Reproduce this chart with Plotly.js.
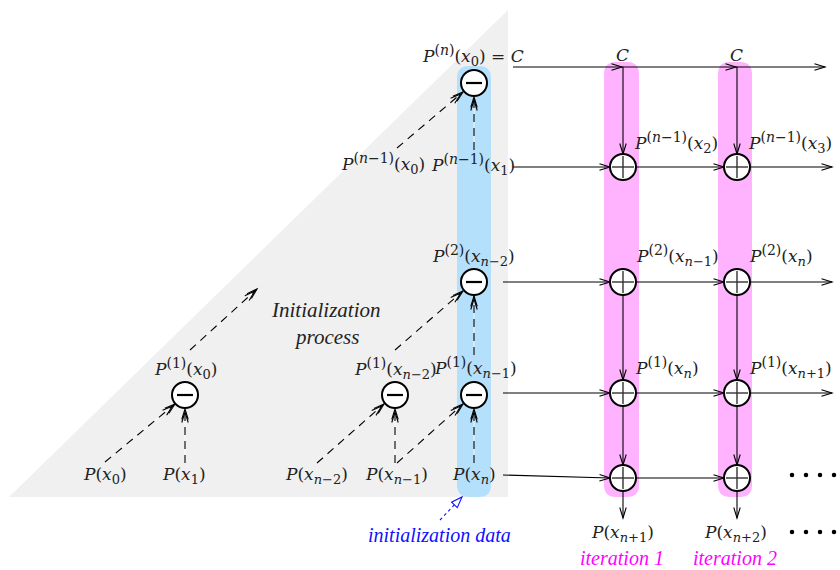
<!DOCTYPE html>
<html>
<head>
<meta charset="utf-8">
<script src="https://cdn.plot.ly/plotly-3.0.1.min.js"></script>
<style>html,body{margin:0;padding:0;background:#fff;}#chart{width:840px;height:570px;}</style>
</head>
<body>
<div id="chart"></div>
<script>
// ---------- diagram data (coordinates in diagram units) ----------
const iterColX = [623, 737];            // iteration columns
const iterRowY = [167, 282, 393, 478];  // rows of the iteration grid
const constRowY = 67;                   // the "C" line
const minusX = [474, 474, 474, 185, 395];
const minusY = [83, 282, 395, 395, 395];

const grayTriangleX = [9, 508, 508];
const grayTriangleY = [497, 10, 497];
const blueBandX = [457, 491];
const blueBandY = [66, 497];
const pinkBandX = [[604, 639], [718, 752]];
const pinkBandY = [62, 497];

// dashed arrows of the initialization process: [x0, y0, x1, y1]
const dashedArrows = [
  [105, 462, 175, 404],
  [185, 463, 185, 409],
  [190, 350, 257, 289],
  [317, 463, 384, 404],
  [395, 463, 395, 409],
  [397, 463, 463, 404],
  [395, 350, 463, 291],
  [474, 463, 474, 409],
  [474, 355, 474, 296],
  [397, 148, 463, 92],
  [474, 150, 474, 97]
];

const diagDotsX = [323, 332, 342, 352, 361, 370];
const diagDotsY = [228, 219, 210, 200, 190, 182];
const blueDotsY = [183, 196, 208, 221, 234];
const pinkDotsY = [192, 206, 220, 233, 247];
const tailDotsX = [792, 806, 820, 834];
const tailDotsY = [475, 532];

// label pieces: base symbol, superscript order, argument, argument subscript
const supOrder = ['n', '', '', 'n−1', 'n−1', 'n−1', 'n−1', '2', '2', '2', '1', '1', '1', '1', '1', '', '', '', '', '', '', ''];
const argSub = ['0', '', '', '0', '1', '2', '3', 'n−2', 'n−1', 'n', '0', 'n−2', 'n−1', 'n', 'n+1', '0', '1', 'n−2', 'n−1', 'n', 'n+1', 'n+2'];
const mathLabelX = [473, 622, 736, 383, 473, 676, 790, 473, 677, 781, 185, 395, 475, 667, 790, 105, 184, 316, 396, 474, 622, 735];
const mathLabelY = [55, 55, 55, 163, 164, 142, 142, 255, 255, 255, 368, 368, 367, 367, 367, 475, 475, 475, 475, 475, 533, 533];

const captions = ['Initialization', 'process', 'initialization data', 'iteration 1', 'iteration 2'];
const captionX = [326, 326, 439, 622, 735];
const captionY = [310, 337, 535, 558, 558];
const captionColor = ['#222', '#222', '#1010ff', '#ff00ff', '#ff00ff'];

function ital(s) { return s.replace(/n/g, '<i>n</i>'); }
function mathLabel(i) {
  if (i === 1 || i === 2) return '<i>C</i>';
  let t = '<i>P</i>';
  if (supOrder[i]) t += '<sup><span style="font-size:14px">(' + ital(supOrder[i]) + ')</span></sup>';
  t += '(<i>x</i><sub><span style="font-size:13px">' + ital(argSub[i]) + '</span></sub>)';
  if (i === 0) t += ' = <i>C</i>';
  return t;
}

// ---------- drawing helpers ----------
const R = 13;
const shapes = [];
function line(x0, y0, x1, y1, color, width, dash) {
  shapes.push({type: 'line', xref: 'x', yref: 'y', x0, y0, x1, y1,
    line: {color: color || '#000', width: width || 1.1, dash: dash || 'solid'}});
}
function head(x0, y0, x1, y1, color, offset) {
  const dx = x1 - x0, dy = y1 - y0, L = Math.hypot(dx, dy);
  const ux = dx / L, uy = dy / L;
  const tx = x1 - ux * (offset || 0), ty = y1 - uy * (offset || 0);
  const len = 11, a = 17 * Math.PI / 180;
  const c = Math.cos(a), s = Math.sin(a);
  const p1x = tx - len * (ux * c - uy * s), p1y = ty - len * (ux * s + uy * c);
  const p2x = tx - len * (ux * c + uy * s), p2y = ty - len * (-ux * s + uy * c);
  shapes.push({type: 'path', xref: 'x', yref: 'y',
    path: `M${p1x},${p1y} L${tx},${ty} L${p2x},${p2y}`,
    line: {color: color || '#000', width: 1.1}});
}
function arrow(x0, y0, x1, y1) { line(x0, y0, x1, y1); head(x0, y0, x1, y1); }
function roundRect(x0, x1, y0, y1, r, fill) {
  const p = `M${x0 + r},${y0} L${x1 - r},${y0} Q${x1},${y0} ${x1},${y0 + r} L${x1},${y1 - r} Q${x1},${y1} ${x1 - r},${y1} L${x0 + r},${y1} Q${x0},${y1} ${x0},${y1 - r} L${x0},${y0 + r} Q${x0},${y0} ${x0 + r},${y0} Z`;
  shapes.push({type: 'path', xref: 'x', yref: 'y', path: p, fillcolor: fill, line: {width: 0}});
}
function circle(cx, cy, plus) {
  shapes.push({type: 'circle', xref: 'x', yref: 'y', x0: cx - R, x1: cx + R, y0: cy - R, y1: cy + R,
    fillcolor: '#fff', line: {color: '#000', width: 2}});
  if (plus) {
    line(cx - R + 2, cy, cx + R - 2, cy, '#333', 1.4);
    line(cx, cy - R + 2, cx, cy + R - 2, '#333', 1.4);
  } else {
    line(cx - 8, cy, cx + 8, cy, '#000', 2.2);
  }
}

// ---------- background regions ----------
shapes.push({type: 'path', xref: 'x', yref: 'y',
  path: `M${grayTriangleX[0]},${grayTriangleY[0]} L${grayTriangleX[1]},${grayTriangleY[1]} L${grayTriangleX[2]},${grayTriangleY[2]} Z`,
  fillcolor: '#f0f0f0', line: {width: 0}});
roundRect(blueBandX[0], blueBandX[1], blueBandY[0], blueBandY[1], 12, '#b5e0fc');
pinkBandX.forEach(b => roundRect(b[0], b[1], pinkBandY[0], pinkBandY[1], 12, '#ffb3ff'));

// ---------- dashed initialization arrows ----------
dashedArrows.forEach(a => {
  line(a[0], a[1], a[2], a[3], 'rgba(255,255,255,0.9)', 0.8);
  line(a[0], a[1], a[2], a[3], '#000', 1.1, '8px,6px');
  head(a[0], a[1], a[2], a[3], '#000', 0);
  head(a[0], a[1], a[2], a[3], '#000', 3);
});

// ---------- iteration arrows ----------
const startX = [513, 503, 503, 503];
const lastX = 832;
line(513, constRowY, 825, constRowY);
iterColX.forEach(cx => { head(513, constRowY, cx - 1, constRowY); arrow(cx, constRowY, cx, iterRowY[0] - R); });
head(513, constRowY, 825, constRowY);
iterRowY.forEach((y, i) => {
  arrow(startX[i], i === 3 ? 475 : y, iterColX[0] - R, y);
  arrow(iterColX[0] + R, y, iterColX[1] - R, y);
  if (i < 3) arrow(iterColX[1] + R, y, lastX, y);
});
iterColX.forEach(cx => {
  for (let i = 1; i < iterRowY.length - 1; i++) arrow(cx, iterRowY[i] + R, cx, iterRowY[i + 1] - R);
  arrow(cx, iterRowY[3] + R, cx, 518);
});

// initialization data pointer
line(440, 520, 458, 501, '#1010ff', 1.1, 'dot');
(function () {
  const tx = 462, ty = 497, ux = 0.69, uy = -0.72, len = 11, w = 4;
  const bx = tx - ux * len, by = ty - uy * len;
  shapes.push({type: 'path', xref: 'x', yref: 'y',
    path: `M${tx},${ty} L${bx - uy * w},${by + ux * w} L${bx + uy * w},${by - ux * w} Z`,
    fillcolor: '#fff', line: {color: '#1010ff', width: 1.1}});
})();

// ---------- nodes ----------
minusX.forEach((x, i) => circle(x, minusY[i], false));
iterColX.forEach(cx => iterRowY.forEach(y => circle(cx, y, true)));

// ---------- dots (traces) ----------
const dotTraces = [
  {x: diagDotsX, y: diagDotsY},
  {x: blueDotsY.map(() => 474), y: blueDotsY},
  {x: pinkDotsY.map(() => iterColX[0]), y: pinkDotsY},
  {x: pinkDotsY.map(() => iterColX[1]), y: pinkDotsY},
  {x: tailDotsX, y: tailDotsX.map(() => tailDotsY[0])},
  {x: tailDotsX, y: tailDotsX.map(() => tailDotsY[1])}
].map(d => Object.assign(d, {type: 'scatter', mode: 'markers', hoverinfo: 'skip',
  marker: {color: '#000', size: 4.5}, cliponaxis: false}));

// ---------- text ----------
const annotations = [];
mathLabelX.forEach((x, i) => annotations.push({
  x: x, y: mathLabelY[i], xref: 'x', yref: 'y', text: mathLabel(i), showarrow: false,
  xanchor: 'center', yanchor: 'middle',
  font: {family: 'DejaVu Serif, serif', size: 17, color: '#222'}
}));
captions.forEach((t, i) => annotations.push({
  x: captionX[i], y: captionY[i], xref: 'x', yref: 'y', text: '<i>' + t + '</i>', showarrow: false,
  xanchor: 'center', yanchor: 'middle',
  font: {family: 'Liberation Serif, serif', size: i < 2 ? 21 : 20, color: captionColor[i]}
}));

const layout = {
  width: 840, height: 570,
  margin: {l: 0, r: 0, t: 0, b: 0},
  paper_bgcolor: '#fff', plot_bgcolor: '#fff',
  showlegend: false,
  xaxis: {range: [0, 840], visible: false, fixedrange: true},
  yaxis: {range: [570, 0], visible: false, fixedrange: true},
  shapes, annotations
};
Plotly.newPlot('chart', dotTraces, layout, {staticPlot: true});
</script>
</body>
</html>
